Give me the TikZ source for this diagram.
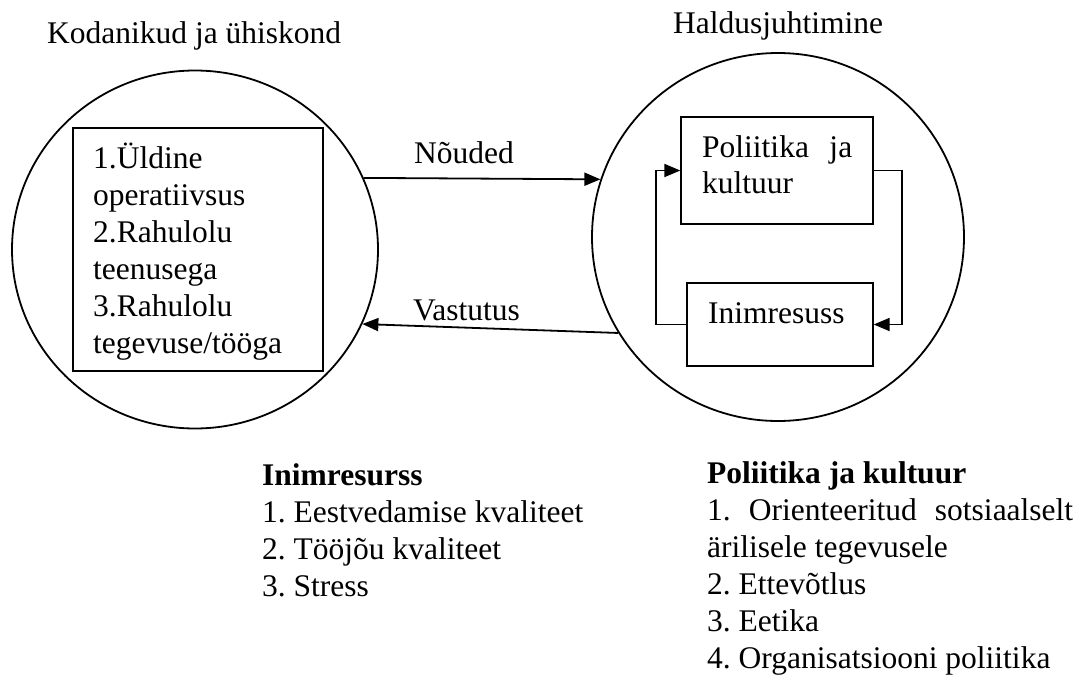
\documentclass[tikz,border=0pt]{standalone}
\usepackage{fontspec}
\setmainfont{Liberation Serif}
\usetikzlibrary{arrows.meta,shapes.geometric}
\frenchspacing
\begin{document}
\begin{tikzpicture}[x=1pt,y=-1pt,
  every node/.style={font=\fontsize{31.5}{37}\selectfont\frenchspacing},
  txt/.style={inner sep=0pt,anchor=base west},
  bigcirc/.style={draw,ellipse,inner sep=0pt,line width=1.8pt},
  bx/.style={draw,rectangle,inner sep=0pt,line width=1.3pt},
  arr/.style={line width=1.8pt,-{Triangle[length=16pt,width=13pt]}}]
\useasboundingbox (0,0) rectangle (1085,675);
% circles
\node[bigcirc,minimum width=366pt,minimum height=358pt] (kod) at (195,249.5) {};
\node[bigcirc,minimum width=372pt,minimum height=368pt] (hal) at (778,237) {};
% boxes
\node[bx,minimum width=250pt,minimum height=243pt] (kbox) at (198,249.5) {};
\node[bx,minimum width=192pt,minimum height=107pt] (pol) at (777,170.5) {};
\node[bx,minimum width=186pt,minimum height=83pt] (inim) at (780,324.5) {};
% titles
\node[txt] (t1) at (47,43) {Kodanikud ja ühiskond};
\node[txt] (t2) at (673,33) {Haldusjuhtimine};
% box texts
\node[txt] (ktext) at (93,168) {\vtop{\baselineskip=37pt
  \hbox{1.Üldine}\hbox{operatiivsus}\hbox{2.Rahulolu}\hbox{teenusega}\hbox{3.Rahulolu}\hbox{tegevuse/tööga}}};
\node[txt] (ptext) at (702,157) {\vtop{\baselineskip=36pt
  \hbox to 150pt{Poliitika\hfill ja}\hbox{kultuur}}};
\node[txt] (itext) at (708,323) {Inimresuss};
% connectors
\draw[arr] (kod.23.3) -- (hal.162.6);
\draw[arr] (hal.211.8) -- (kod.-24.8);
\node[txt] (nou) at (414,163) {Nõuded};
\node[txt] (vas) at (413,320) {Vastutus};
\draw[arr] (inim.west) -- ++(-30,0) |- (pol.west);
\draw[arr] (pol.east) -- ++(28,0) |- (inim.east);
% lists
\node[txt] (list1) at (262,485) {\vtop{\baselineskip=37pt
  \hbox{\bfseries Inimresurss}\hbox{1. Eestvedamise kvaliteet}\hbox{2. Tööjõu kvaliteet}\hbox{3. Stress}}};
\node[txt] (list2) at (707,483) {\vtop{\baselineskip=37pt
  \hbox{\bfseries Poliitika ja kultuur}\hbox to 366pt{1.\hfill Orienteeritud\hfill sotsiaalselt}\hbox{ärilisele tegevusele}\hbox{2. Ettevõtlus}\hbox{3. Eetika}\hbox{4. Organisatsiooni poliitika}}};
\end{tikzpicture}
\end{document}
